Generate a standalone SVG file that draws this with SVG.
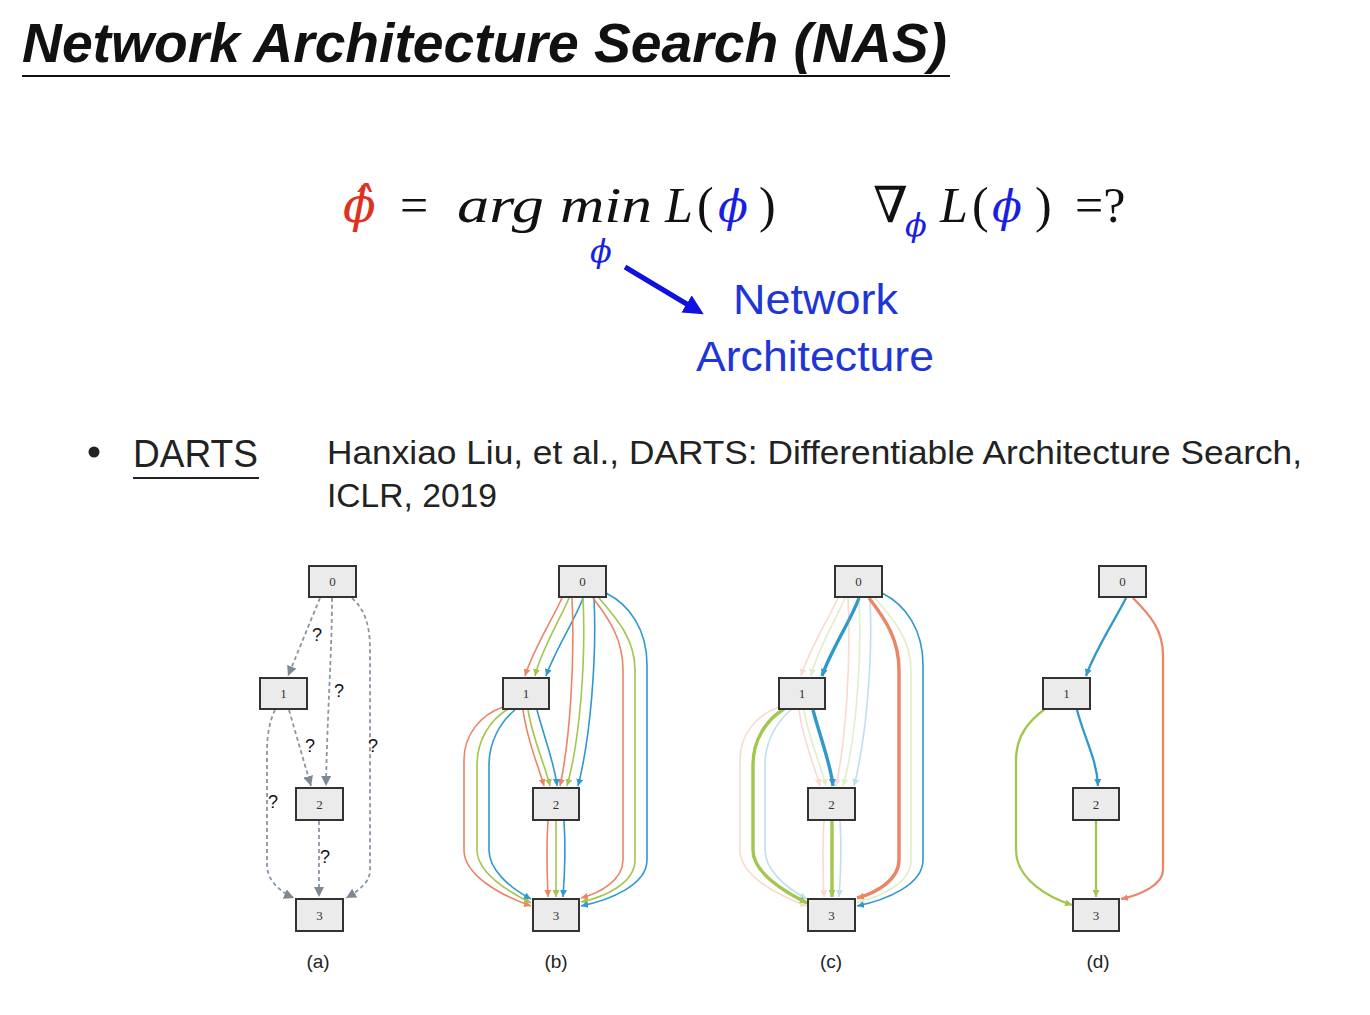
<svg xmlns="http://www.w3.org/2000/svg" width="1370" height="1015" viewBox="0 0 1370 1015">
<style>
.node rect{fill:#ebebeb;stroke:#333;stroke-width:2}
.node text{font-family:"Liberation Serif",serif;font-size:13px;fill:#333;text-anchor:middle}
.dash{fill:none;stroke:#8a96a3;stroke-width:1.8;stroke-dasharray:4 3;marker-end:url(#mg)}
.o{fill:none;stroke:#ec8466;stroke-width:1.6;marker-end:url(#mo)}
.g{fill:none;stroke:#a2c64e;stroke-width:1.6;marker-end:url(#mgr)}
.b{fill:none;stroke:#2f98cc;stroke-width:1.6;marker-end:url(#mb)}
.f{opacity:0.3}
.t{stroke-width:3.4}
.d{stroke-width:2.3}
.q{font-family:"Liberation Sans",sans-serif;font-size:18px;fill:#111;text-anchor:middle}
.cap{font-family:"Liberation Sans",sans-serif;font-size:19px;fill:#222;text-anchor:middle}
.m{font-family:"Liberation Serif","DejaVu Serif",serif;font-size:50px;fill:#111}
.mi{font-style:italic}
.phi{font-family:"DejaVu Serif",serif;font-style:italic;font-size:44px}
.blue{fill:#1a1ee0}
</style>
<defs>
<marker id="mg" viewBox="0 0 10 10" refX="10" refY="5" markerWidth="10" markerHeight="10" markerUnits="userSpaceOnUse" orient="auto"><path d="M0,0 L10,5 L0,10 z" fill="#7b8996"/></marker>
<marker id="mo" viewBox="0 0 10 10" refX="10" refY="5" markerWidth="7" markerHeight="7" markerUnits="userSpaceOnUse" orient="auto"><path d="M0,0 L10,5 L0,10 z" fill="#ec8466"/></marker>
<marker id="mgr" viewBox="0 0 10 10" refX="10" refY="5" markerWidth="7" markerHeight="7" markerUnits="userSpaceOnUse" orient="auto"><path d="M0,0 L10,5 L0,10 z" fill="#a2c64e"/></marker>
<marker id="mb" viewBox="0 0 10 10" refX="10" refY="5" markerWidth="7" markerHeight="7" markerUnits="userSpaceOnUse" orient="auto"><path d="M0,0 L10,5 L0,10 z" fill="#2f98cc"/></marker>
<marker id="mblue" viewBox="0 0 10 10" refX="2" refY="5" markerWidth="20" markerHeight="20" markerUnits="userSpaceOnUse" orient="auto"><path d="M0,0 L10,5 L0,10 z" fill="#1010e0"/></marker>
</defs>
<rect width="1370" height="1015" fill="#fff"/>

<!-- Title -->
<g id="title">
<text x="22" y="62" font-family="Liberation Sans, sans-serif" font-size="55" font-weight="bold" font-style="italic" fill="#111" textLength="925" lengthAdjust="spacingAndGlyphs">Network Architecture Search (NAS)</text>
<line x1="22" y1="76" x2="950" y2="76" stroke="#111" stroke-width="2"/>
</g>

<!-- Formula -->
<g id="formula">
<text class="m phi" x="343" y="222" style="fill:#e0301e;font-size:48px">ϕ̂</text>
<text class="m" x="400" y="222">=</text>
<text class="m mi" x="457" y="222" textLength="87" lengthAdjust="spacingAndGlyphs">arg</text>
<text class="m mi" x="560" y="222" textLength="92" lengthAdjust="spacingAndGlyphs">min</text>
<text class="m mi" x="665" y="222">L</text>
<text class="m" x="697" y="222">(</text>
<text class="m phi blue" x="718" y="222">ϕ</text>
<text class="m" x="759" y="222">)</text>
<text class="m phi blue" x="590" y="262" style="font-size:32px">ϕ</text>
<text class="m" x="873" y="222">∇</text>
<text class="m phi blue" x="905" y="236" style="font-size:32px">ϕ</text>
<text class="m mi" x="940" y="222">L</text>
<text class="m" x="972" y="222">(</text>
<text class="m phi blue" x="992" y="222">ϕ</text>
<text class="m" x="1035" y="222">)</text>
<text class="m" x="1075" y="222">=?</text>
<line x1="625" y1="267" x2="690" y2="306" stroke="#1010e0" stroke-width="5" marker-end="url(#mblue)"/>
<text x="733" y="314" font-family="Liberation Sans, sans-serif" font-size="43" fill="#1f36d6" textLength="165" lengthAdjust="spacingAndGlyphs">Network</text>
<text x="696" y="371" font-family="Liberation Sans, sans-serif" font-size="43" fill="#1f36d6" textLength="238" lengthAdjust="spacingAndGlyphs">Architecture</text>
</g>

<!-- DARTS bullet -->
<g id="darts">
<circle cx="94" cy="452" r="5.5" fill="#222"/>
<text x="133" y="467" font-family="Liberation Sans, sans-serif" font-size="38" fill="#222" textLength="125" lengthAdjust="spacingAndGlyphs">DARTS</text>
<line x1="133" y1="478" x2="259" y2="478" stroke="#222" stroke-width="2"/>
<text x="327" y="464" font-family="Liberation Sans, sans-serif" font-size="33" fill="#222" textLength="975" lengthAdjust="spacingAndGlyphs">Hanxiao Liu, et al., DARTS: Differentiable Architecture Search,</text>
<text x="327" y="507" font-family="Liberation Sans, sans-serif" font-size="33" fill="#222" textLength="170" lengthAdjust="spacingAndGlyphs">ICLR, 2019</text>
</g>

<!-- Connectors -->
<g id="connectors">
<g id="edges-a">
<path class="dash" d="M320,598 L288,676"/>
<path class="dash" d="M332,598 C332,650 327,720 326,786"/>
<path class="dash" d="M352,598 C365,610 370,625 370,650 L370,870 C370,882 360,890 346,898"/>
<path class="dash" d="M289,710 L311,786"/>
<path class="dash" d="M275,710 C270,720 267,735 267,750 L267,865 C267,880 280,892 294,898"/>
<path class="dash" d="M319,821 L319,897"/>
</g>
<g id="edges-b">
<path class="o" d="M562,598 C552,620 533,650 525,676"/>
<path class="g" d="M569,598 C560,620 541,650 535,676"/>
<path class="b" d="M583,598 C575,620 555,650 546,676"/>
<path class="o" d="M572,598 C575,660 570,740 560,786"/>
<path class="g" d="M583,598 C586,660 580,740 567,786"/>
<path class="b" d="M594,598 C597,660 590,740 578,786"/>
<path class="o" d="M523,710 C527,740 538,765 544,786"/>
<path class="g" d="M528,710 C533,740 545,765 550,786"/>
<path class="b" d="M537,710 C545,740 555,765 557,786"/>
<path class="o" d="M503,707 C480,715 464,735 464,760 L464,850 C464,875 500,895 531,906"/>
<path class="g" d="M508,709 C490,720 477,740 477,765 L477,850 C477,872 505,890 531,903"/>
<path class="b" d="M516,709 C500,722 489,742 489,765 L489,850 C489,870 510,888 531,899"/>
<path class="o" d="M548,821 C546,850 547,870 548,897"/>
<path class="g" d="M556,821 L556,897"/>
<path class="b" d="M564,821 C566,850 565,870 563,897"/>
<path class="o" d="M593,598 C610,620 623,640 623,670 L623,860 C623,880 600,893 581,898"/>
<path class="g" d="M599,598 C618,620 635,640 635,670 L635,860 C635,883 605,897 581,902"/>
<path class="b" d="M606,593 C630,605 647,630 647,665 L647,860 C647,885 610,900 581,906"/>
</g>
<g id="edges-c" transform="translate(276,0)">
<path class="o f" d="M562,598 C552,620 533,650 525,676"/>
<path class="g f" d="M569,598 C560,620 541,650 535,676"/>
<path class="b t" d="M583,598 C575,620 555,650 546,676"/>
<path class="o f" d="M572,598 C575,660 570,740 560,786"/>
<path class="g f" d="M583,598 C586,660 580,740 567,786"/>
<path class="b f" d="M594,598 C597,660 590,740 578,786"/>
<path class="o f" d="M523,710 C527,740 538,765 544,786"/>
<path class="g f" d="M528,710 C533,740 545,765 550,786"/>
<path class="b t" d="M537,710 C545,740 555,765 557,786"/>
<path class="o f" d="M503,707 C480,715 464,735 464,760 L464,850 C464,875 500,895 531,906"/>
<path class="g t" d="M508,709 C490,720 477,740 477,765 L477,850 C477,872 505,890 531,903"/>
<path class="b f" d="M516,709 C500,722 489,742 489,765 L489,850 C489,870 510,888 531,899"/>
<path class="o f" d="M548,821 C546,850 547,870 548,897"/>
<path class="g t" d="M556,821 L556,897"/>
<path class="b f" d="M564,821 C566,850 565,870 563,897"/>
<path class="o t" d="M593,598 C610,620 623,640 623,670 L623,860 C623,880 600,893 581,898"/>
<path class="g f" d="M599,598 C618,620 635,640 635,670 L635,860 C635,883 605,897 581,902"/>
<path class="b" d="M606,593 C630,605 647,630 647,665 L647,860 C647,885 610,900 581,906"/>
</g>
<g id="edges-d">
<path class="b d" d="M1126,598 C1115,620 1095,650 1086,676"/>
<path class="o d" d="M1133,598 C1150,615 1163,630 1163,655 L1163,870 C1163,885 1140,895 1121,899"/>
<path class="b d" d="M1077,710 C1085,740 1097,760 1098,786"/>
<path class="g d" d="M1045,709 C1030,720 1016,735 1016,760 L1016,850 C1016,880 1050,898 1072,905"/>
<path class="g d" d="M1096,821 L1096,897"/>
</g>
</g>

<!-- question marks -->
<g id="qlabels">
<text class="q" x="317" y="641">?</text>
<text class="q" x="339" y="697">?</text>
<text class="q" x="373" y="752">?</text>
<text class="q" x="310" y="752">?</text>
<text class="q" x="273" y="808">?</text>
<text class="q" x="325" y="863">?</text>
</g>

<!-- Nodes (a) -->
<g id="a0" class="node"><rect x="309" y="566" width="47" height="31"/><text x="332.5" y="586">0</text></g>
<g id="a1" class="node"><rect x="260" y="678" width="47" height="31"/><text x="283.5" y="698">1</text></g>
<g id="a2" class="node"><rect x="296" y="788" width="47" height="32"/><text x="319.5" y="809">2</text></g>
<g id="a3" class="node"><rect x="296" y="899" width="47" height="32"/><text x="319.5" y="920">3</text></g>
<!-- Nodes (b) -->
<g id="b0" class="node"><rect x="559" y="566" width="47" height="31"/><text x="582.5" y="586">0</text></g>
<g id="b1" class="node"><rect x="503" y="678" width="46" height="31"/><text x="526" y="698">1</text></g>
<g id="b2" class="node"><rect x="533" y="788" width="46" height="32"/><text x="556" y="809">2</text></g>
<g id="b3" class="node"><rect x="533" y="899" width="46" height="32"/><text x="556" y="920">3</text></g>
<!-- Nodes (c) -->
<g id="c0" class="node"><rect x="835" y="566" width="47" height="31"/><text x="858.5" y="586">0</text></g>
<g id="c1" class="node"><rect x="779" y="678" width="46" height="31"/><text x="802" y="698">1</text></g>
<g id="c2" class="node"><rect x="808" y="788" width="47" height="32"/><text x="831.5" y="809">2</text></g>
<g id="c3" class="node"><rect x="808" y="899" width="47" height="32"/><text x="831.5" y="920">3</text></g>
<!-- Nodes (d) -->
<g id="d0" class="node"><rect x="1099" y="566" width="47" height="31"/><text x="1122.5" y="586">0</text></g>
<g id="d1" class="node"><rect x="1043" y="678" width="47" height="31"/><text x="1066.5" y="698">1</text></g>
<g id="d2" class="node"><rect x="1073" y="788" width="46" height="32"/><text x="1096" y="809">2</text></g>
<g id="d3" class="node"><rect x="1073" y="899" width="46" height="32"/><text x="1096" y="920">3</text></g>

<g id="captions">
<text class="cap" x="318" y="968">(a)</text>
<text class="cap" x="556" y="968">(b)</text>
<text class="cap" x="831" y="968">(c)</text>
<text class="cap" x="1098" y="968">(d)</text>
</g>
</svg>
